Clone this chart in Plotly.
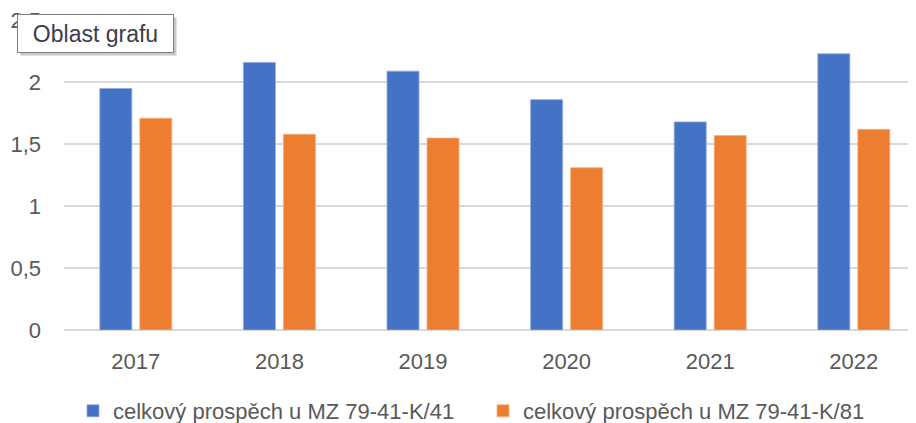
import plotly.graph_objects as go

years = ["2017", "2018", "2019", "2020", "2021", "2022"]
series1_name = "celkový prospěch u MZ 79-41-K/41"
series2_name = "celkový prospěch u MZ 79-41-K/81"
series1 = [1.95, 2.16, 2.09, 1.86, 1.68, 2.23]
series2 = [1.71, 1.58, 1.55, 1.31, 1.57, 1.62]
y_ticks = [0, 0.5, 1, 1.5, 2, 2.5]
y_tick_labels = ["0", "0,5", "1", "1,5", "2", "2,5"]

# the page body adds an 8px offset, so the figure is sized to end at the window edge
OFF = 8
W, H = 916 - OFF, 423 - OFF
ML, MR, MT, MB = 64 - OFF, 0, 20 - OFF, 93
PW = W - ML - MR
PH = H - MT - MB

FONT = "Liberation Sans, Arial, sans-serif"

fig = go.Figure()
fig.add_trace(go.Bar(x=years, y=series1, name=series1_name,
                     marker=dict(color="#4472C4", line=dict(color="#8FAADC", width=0.8))))
fig.add_trace(go.Bar(x=years, y=series2, name=series2_name,
                     marker=dict(color="#ED7D31", line=dict(color="#F4B183", width=0.8))))

def px_x(px):
    return (px - OFF - ML) / PW

def px_y(py):
    return (H - MB - (py - OFF)) / PH

box_cx, box_cy = 95.6, 33.3
tip = dict(xref="paper", yref="paper", x=px_x(box_cx), y=px_y(box_cy),
           xanchor="center", yanchor="middle", showarrow=False,
           width=153, height=35, borderpad=1, borderwidth=1, align="center")

fig.update_layout(
    width=W, height=H,
    margin=dict(l=ML, r=MR, t=MT, b=MB, pad=0, autoexpand=False),
    paper_bgcolor="white", plot_bgcolor="white",
    barmode="group", bargap=0.443, bargroupgap=0.2,
    font=dict(family=FONT, size=22, color="#595959"),
    showlegend=True,
    legend=dict(orientation="h", x=px_x(73), y=px_y(411), xanchor="left", yanchor="middle",
                font=dict(size=22, color="#595959"), entrywidth=365, entrywidthmode="pixels",
                itemwidth=30, bgcolor="rgba(0,0,0,0)", traceorder="normal"),
    xaxis=dict(type="category", range=[-0.5, 5.433], showgrid=False, showline=False,
               zeroline=False, ticks="", tickfont=dict(size=22, color="#595959"),
               ticklabelstandoff=16, fixedrange=True, automargin=False),
    yaxis=dict(range=[0, 2.503], tickvals=y_ticks, ticktext=y_tick_labels,
               showgrid=True, gridcolor="#D9D9D9", gridwidth=1.5,
               zeroline=True, zerolinecolor="#D9D9D9", zerolinewidth=1.5,
               showline=False, ticks="", tickfont=dict(size=22, color="#595959"),
               ticklabelstandoff=22, fixedrange=True, automargin=False),
    annotations=[
        dict(tip, text=" ", bgcolor="rgba(0,0,0,0.22)", bordercolor="rgba(0,0,0,0)",
             xshift=3, yshift=-3),
        dict(tip, text="Oblast grafu", bgcolor="white", bordercolor="#7F7F7F",
             font=dict(family=FONT, size=23, color="#3C3C4C")),
    ],
)

fig.write_html("out.html")
